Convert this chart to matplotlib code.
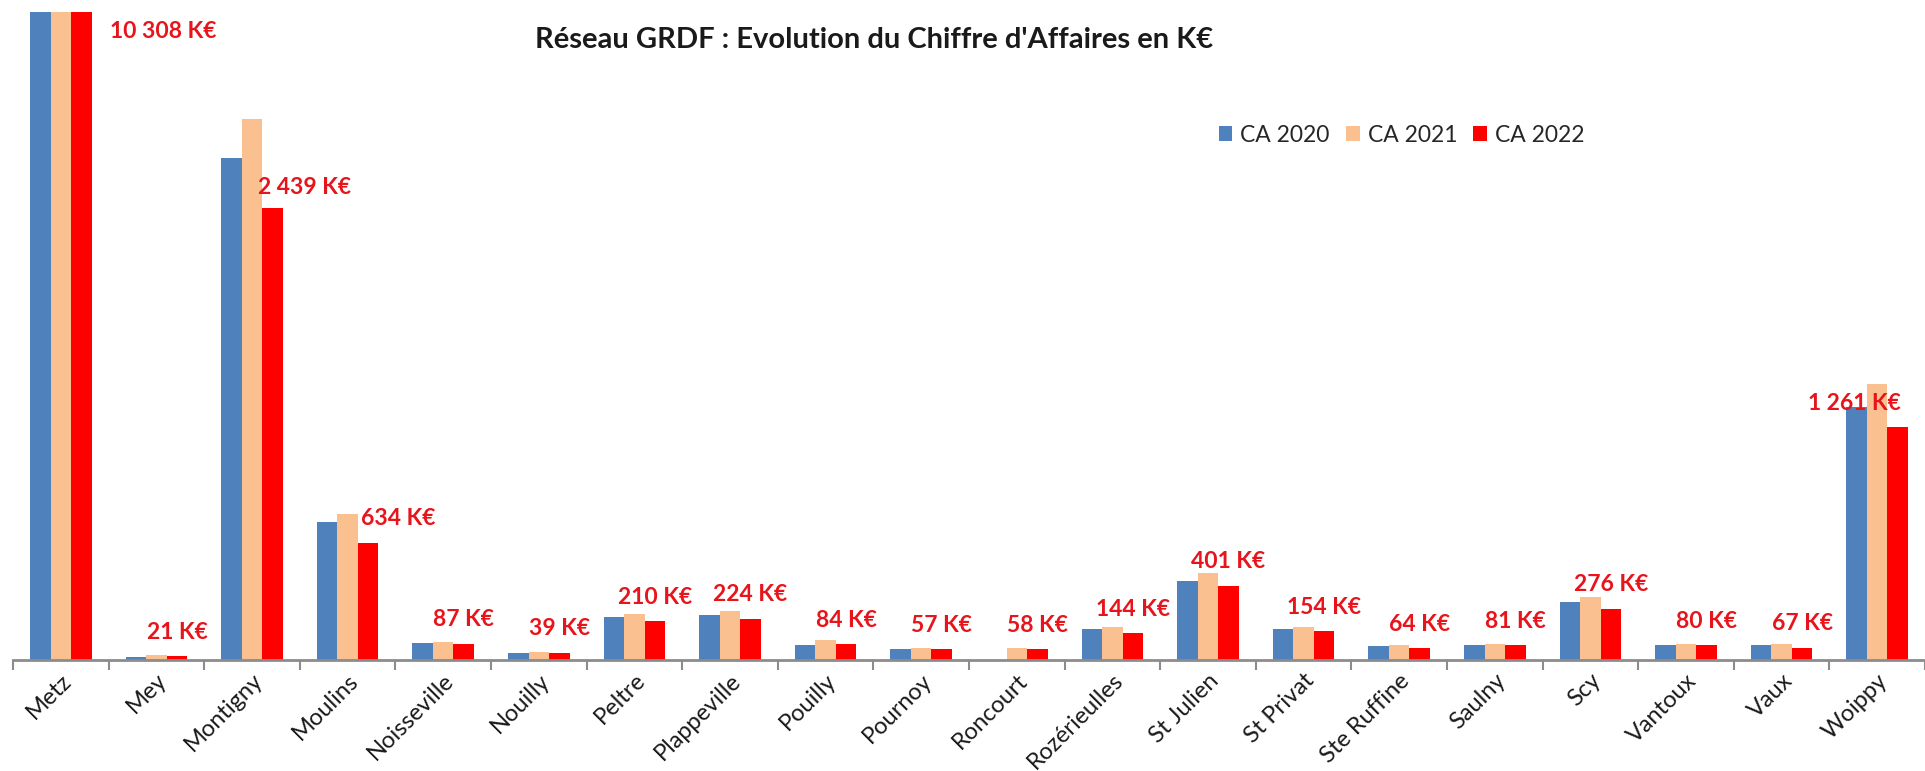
import numpy as np
import matplotlib.pyplot as plt

plt.rcParams['font.family'] = ['Lato', 'DejaVu Sans']

# Communes and turnover (K€)
communes = ["Metz", "Mey", "Montigny", "Moulins", "Noisseville", "Nouilly", "Peltre",
            "Plappeville", "Pouilly", "Pournoy", "Roncourt", "Rozérieulles", "St Julien",
            "St Privat", "Ste Ruffine", "Saulny", "Scy", "Vantoux", "Vaux", "Woippy"]
ca_2020 = [10100, 16, 2711, 745, 94, 38, 234, 241, 81, 61, 0, 167, 428, 167, 74, 81, 313, 81, 81, 1366]
ca_2021 = [10700, 25, 2921, 788, 99, 43, 247, 265, 106, 67, 67, 180, 468, 178, 81, 88, 338, 88, 88, 1490]
ca_2022 = [10308, 21, 2439, 634, 87, 39, 210, 224, 84, 57, 58, 144, 401, 154, 64, 81, 276, 80, 67, 1261]

series = [("CA 2020", ca_2020, "#4F81BD"),
          ("CA 2021", ca_2021, "#FAC090"),
          ("CA 2022", ca_2022, "#FF0000")]

W, H = 1925, 771
fig = plt.figure(figsize=(W / 100, H / 100), dpi=100)
ax = fig.add_axes([13 / W, 1 - 660 / H, 1912 / W, 648 / H])

x = np.arange(len(communes))
bw = 0.215
for k, (name, vals, col) in enumerate(series):
    ax.bar(x + (k - 1) * bw, vals, bw, color=col, label=name)

ymax = 3500
ax.set_ylim(0, ymax)
ax.set_xlim(-0.5, -0.5 + 1912 / 95.8)

# value labels above the 2022 bars (a few moved by hand like in the original)
special = {"Metz": (82, -20), "Montigny": (32, 21), "Moulins": (30, 24), "Woippy": (-43, 23)}
for i, (c, v) in enumerate(zip(communes, ca_2022)):
    txt = f"{v:,} K€".replace(",", " ")
    dx, dy = special.get(c, (0, 24))
    ax.annotate(txt, xy=(x[i] + bw, min(v, ymax)), xytext=(dx, dy),
                textcoords="offset pixels", ha="center", va="center",
                color="#E8141B", fontsize=16.5, fontweight="bold", annotation_clip=False)

for s in ["top", "left", "right"]:
    ax.spines[s].set_visible(False)
ax.spines["bottom"].set_color("#8C8C8C")
ax.spines["bottom"].set_linewidth(2)
ax.set_yticks([])
ax.set_xticks(x)
ax.set_xticklabels(communes, rotation=45, ha="right", rotation_mode="anchor",
                   fontsize=17, color="#1A1A1A")
ax.tick_params(axis="x", which="major", length=0, pad=7)
ax.set_xticks(np.arange(len(communes) + 1) - 0.5, minor=True)
ax.tick_params(axis="x", which="minor", length=7, width=1.5, color="#8C8C8C", direction="out")

fig.text(874 / W, 1 - 40 / H, "Réseau GRDF : Evolution du Chiffre d'Affaires en K€",
         ha="center", va="center", fontsize=21, fontweight="bold", color="#1A1A1A")

ax.legend(loc="center left", bbox_to_anchor=(1198 / W, 1 - 135 / H), bbox_transform=fig.transFigure,
          ncol=3, frameon=False, fontsize=16.5, handlelength=0.6, handleheight=0.6,
          handletextpad=0.35, columnspacing=0.7, labelcolor="#262626")

fig.savefig("out.png", dpi=100)
